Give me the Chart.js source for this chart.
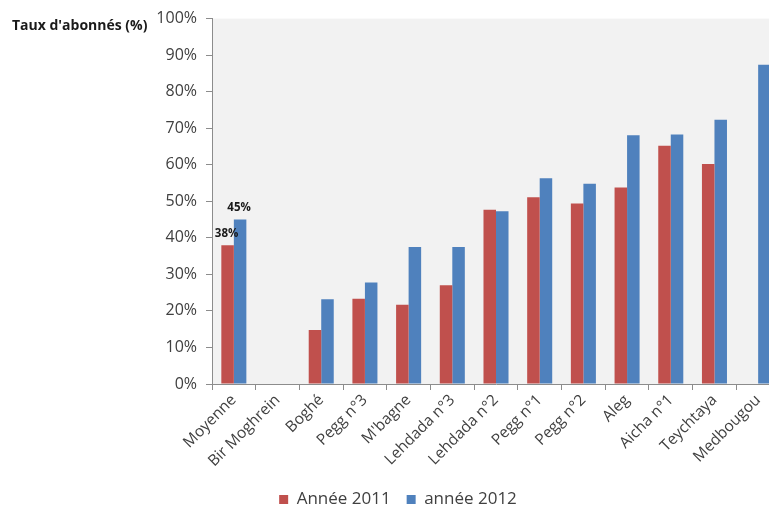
<!DOCTYPE html>
<html lang="fr">
<head>
<meta charset="utf-8">
<title>Taux d'abonnés</title>
<script src="https://cdn.jsdelivr.net/npm/chart.js@4.4.1/dist/chart.umd.min.js"></script>
<style>
    html, body { margin: 0; padding: 0; background: #fff; overflow: hidden; }
    #wrap { position: relative; width: 769px; height: 507px; overflow: hidden; }
    #yTitle {
        position: absolute; left: 12px; top: 18px;
        font: bold 14px "Open Sans", sans-serif; line-height: 14px;
        color: #1a1a1a; white-space: nowrap;
    }
    canvas { position: absolute; left: 0; top: 0; }
</style>
</head>
<body>
<div id="wrap">
    <canvas id="abonnesChart" width="800" height="518"></canvas>
    <div id="yTitle">Taux d'abonnés (%)</div>
</div>
<script>
// Localités (ordre croissant du taux 2012)
const localites = ['Moyenne', 'Bir Moghrein', 'Boghé', 'Pegg n°3', "M'bagne", 'Lehdada n°3',
    'Lehdada n°2', 'Pegg n°1', 'Pegg n°2', 'Aleg', 'Aicha n°1', 'Teychtaya', 'Medbougou'];

// Taux d'abonnés en %
const taux2011 = [38, null, 14.8, 23.3, 21.7, 27.0, 47.7, 51.1, 49.4, 53.8, 65.2, 60.2, null];
const taux2012 = [45, null, 23.2, 27.8, 37.5, 37.5, 47.3, 56.3, 54.8, 68.1, 68.3, 72.3, 87.4];

const yTicks = [0, 10, 20, 30, 40, 50, 60, 70, 80, 90, 100];

// seules les barres de la moyenne portent leur valeur
const localitesEtiquetees = ['Moyenne'];

const AXE = '#8c8c8c';

Chart.defaults.font.family = '"Open Sans", sans-serif';
Chart.defaults.color = '#404040';

// fond gris de la zone de tracé
const fondZone = {
    id: 'fondZone',
    beforeDraw(chart) {
        const { ctx, chartArea: a } = chart;
        ctx.save();
        ctx.fillStyle = '#f2f2f2';
        ctx.fillRect(a.left + 1, a.top, a.right - a.left, a.bottom - a.top);
        ctx.restore();
    }
};

// valeurs au-dessus des barres de la moyenne
const etiquettes = {
    id: 'etiquettes',
    afterDatasetsDraw(chart) {
        const ctx = chart.ctx;
        ctx.save();
        ctx.font = 'bold 11.5px "Open Sans", sans-serif';
        ctx.fillStyle = '#1a1a1a';
        ctx.textAlign = 'center';
        ctx.textBaseline = 'bottom';
        chart.data.datasets.forEach((ds, di) => {
            const meta = chart.getDatasetMeta(di);
            localitesEtiquetees.forEach(nom => {
                const i = localites.indexOf(nom);
                const v = ds.data[i];
                if (v == null) return;
                const bar = meta.data[i];
                ctx.fillText(Math.round(v) + '%', bar.x - 1, bar.y - 6);
            });
        });
        ctx.restore();
    }
};

const ctx = document.getElementById('abonnesChart').getContext('2d');

new Chart(ctx, {
    type: 'bar',
    data: {
        labels: localites,
        datasets: [
            {
                label: 'Année 2011',
                data: taux2011,
                backgroundColor: '#c0504d',
                borderWidth: 0,
                categoryPercentage: 0.573,
                barPercentage: 1
            },
            {
                label: 'année 2012',
                data: taux2012,
                backgroundColor: '#4f81bd',
                borderWidth: 0,
                categoryPercentage: 0.573,
                barPercentage: 1
            }
        ]
    },
    options: {
        responsive: false,
        animation: false,
        layout: { padding: { top: 14, right: 20, bottom: 0, left: 16 } },
        plugins: {
            legend: {
                position: 'bottom',
                labels: {
                    boxWidth: 9,
                    boxHeight: 9,
                    padding: 16,
                    color: '#404040',
                    font: { size: 17 }
                }
            },
            tooltip: { enabled: false }
        },
        scales: {
            y: {
                min: 0,
                max: 100,
                afterBuildTicks(scale) {
                    scale.ticks = yTicks.map(v => ({ value: v }));
                },
                afterFit(scale) { scale.width = 196; },
                grid: {
                    drawOnChartArea: false,
                    drawTicks: true,
                    tickLength: 6,
                    color: AXE
                },
                border: { display: true, color: AXE },
                ticks: {
                    padding: 9,
                    font: { size: 16 },
                    color: '#404040',
                    callback: v => v + '%'
                }
            },
            x: {
                offset: true,
                afterFit(scale) { scale.height = 91; },
                grid: {
                    offset: true,
                    drawOnChartArea: false,
                    drawTicks: true,
                    tickLength: 6,
                    color: AXE
                },
                border: { display: true, color: AXE },
                ticks: {
                    autoSkip: false,
                    minRotation: 45,
                    maxRotation: 45,
                    padding: 1,
                    font: { size: 15.5 },
                    color: '#404040'
                }
            }
        }
    },
    plugins: [fondZone, etiquettes]
});
</script>
</body>
</html>
